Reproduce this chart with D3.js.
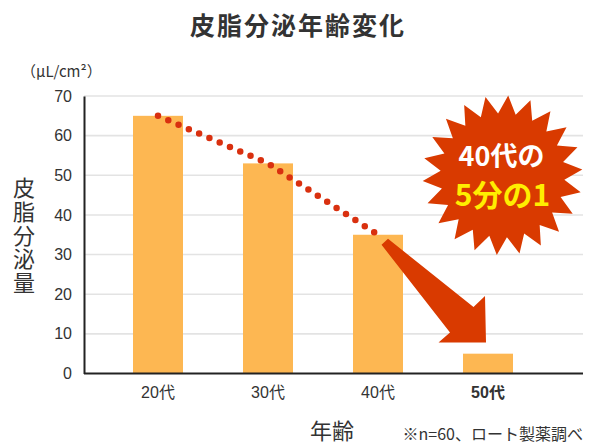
<!DOCTYPE html>
<html><head><meta charset="utf-8">
<script src="https://cdn.jsdelivr.net/npm/d3@7"></script>
<style>
html,body{margin:0;padding:0;background:#fff;}
svg{display:block;}
text{font-family:"Liberation Sans","Noto Sans CJK JP",sans-serif;}
</style></head>
<body>
<svg id="chart" width="600" height="448"></svg>
<script>
const categories = ["20代","30代","40代","50代"];
const values = [65,53,35,5];
const yTicks = [0,10,20,30,40,50,60,70];
const title = "皮脂分泌年齢変化";
const yUnit = "（μL/cm²）";
const yTitle = "皮脂分泌量";
const xTitle = "年齢";
const note = "※n=60、ロート製薬調べ";
const badgeLine1 = "40代の";
const badgeLine2 = "5分の1";

(function(){
const svg = d3.select("#chart");
const pL = 84, pR = 583, pT = 96, pB = 373.5;

const x = d3.scaleBand().domain(categories).range([103,543])
  .paddingInner(60/110).paddingOuter(30/110);
const y = d3.scaleLinear().domain([0,70]).range([pB, pT]);
const xc = c => x(c) + x.bandwidth()/2;

// gridlines
svg.append("g").selectAll("line").data(yTicks.filter(t=>t>0)).join("line")
  .attr("x1", pL).attr("x2", pR)
  .attr("y1", d=>y(d)).attr("y2", d=>y(d))
  .attr("stroke","#e3e3e3").attr("stroke-width",1.6);

// bars
svg.append("g").selectAll("rect").data(values).join("rect")
  .attr("x",(d,i)=>x(categories[i])).attr("width",x.bandwidth())
  .attr("y",d=>y(d)).attr("height",d=>y(0)-y(d))
  .attr("fill","#fdb752");

// y axis
const yAxis = svg.append("g").attr("transform",`translate(${pL},0)`)
  .call(d3.axisLeft(y).tickValues(yTicks).tickSize(0).tickPadding(12));
yAxis.select(".domain").attr("stroke","#222").attr("stroke-width",2);
yAxis.selectAll("text").attr("font-size",16).attr("fill","#333")
  .attr("font-family","Liberation Sans, sans-serif");

// x axis
const xAxis = svg.append("g").attr("transform",`translate(0,${pB})`)
  .call(d3.axisBottom(x).tickSize(0).tickPadding(13));
xAxis.select(".domain").attr("d",`M${pL},0H${pR}`).attr("stroke","#222").attr("stroke-width",2);
xAxis.selectAll("text").attr("font-size",16).attr("fill","#333")
  .attr("font-weight",(d,i)=>i===3?"bold":"normal")
  .attr("font-family","Liberation Sans, Noto Sans CJK JP, sans-serif");

// dotted trend line
const line = d3.line().x(d=>xc(d.c)).y(d=>y(d.v));
const trend = categories.slice(0,3).map((c,i)=>({c, v:values[i]}));
svg.append("path").datum(trend).attr("d",line)
  .attr("fill","none").attr("stroke","#d9300f").attr("stroke-width",6.5)
  .attr("stroke-linecap","round").attr("stroke-dasharray","0 11.2");

// arrow
const S = [xc("40代"), y(35)];
const T = [xc("50代")-2, y(0)-31];
const arrowPts = [
  [S[0]+10, S[1]+4],
  [T[0]-12.5, T[1]-35.5],
  [T[0]-1, T[1]-46.5],
  [T[0], T[1]],
  [T[0]-47.5, T[1]],
  [T[0]-36, T[1]-10],
  [S[0]+3.5, S[1]+10]
];
svg.append("path").attr("d", d3.line()(arrowPts)+"Z").attr("fill","#d93a00");

// starburst
const cx = xc("50代")+14.5, cy = y(50);
const n = 22, rOut = 80, rIn = 62;
const starPts = [];
for (let k=0;k<2*n;k++){
  const a = (k/(2*n))*2*Math.PI + Math.PI/n*0.5 - Math.PI/2;
  const r = k%2===0 ? rOut : rIn;
  starPts.push([cx + r*Math.cos(a), cy + r*Math.sin(a)]);
}
svg.append("path").attr("d", d3.line()(starPts)+"Z").attr("fill","#d93a00");
svg.append("text").attr("x",cx-1).attr("y",cy-9).attr("text-anchor","middle")
  .attr("font-size",27).attr("font-weight","bold").attr("fill","#fff")
  .style("font-family","Noto Sans CJK JP, sans-serif").text(badgeLine1);
svg.append("text").attr("x",cx).attr("y",cy+31).attr("text-anchor","middle")
  .attr("font-size",30).attr("font-weight","bold").attr("fill","#ffee00")
  .style("font-family","Noto Sans CJK JP, sans-serif").text(badgeLine2);

// title
svg.append("text").attr("x",298).attr("y",35).attr("text-anchor","middle")
  .attr("font-size",25).attr("font-weight","bold").attr("fill","#333")
  .attr("letter-spacing",2)
  .style("font-family","Noto Sans CJK JP, sans-serif").text(title);

// y unit
svg.append("text").attr("x",21).attr("y",77).attr("font-size",15).attr("fill","#333")
  .style("font-family","Noto Sans CJK JP, sans-serif").text(yUnit);

// y title vertical
svg.append("text").attr("x",24).attr("y",236).attr("text-anchor","middle")
  .style("writing-mode","vertical-rl")
  .attr("font-size",22).attr("letter-spacing",1.7).attr("fill","#333")
  .style("font-family","Noto Sans CJK JP, sans-serif").text(yTitle);

// x title
svg.append("text").attr("x",332).attr("y",439).attr("text-anchor","middle")
  .attr("font-size",22).attr("fill","#333")
  .style("font-family","Noto Sans CJK JP, sans-serif").text(xTitle);

// note
svg.append("text").attr("x",583).attr("y",440).attr("text-anchor","end")
  .attr("font-size",16).attr("fill","#333")
  .style("font-family","Noto Sans CJK JP, sans-serif").text(note);
})();
</script>
</body></html>
